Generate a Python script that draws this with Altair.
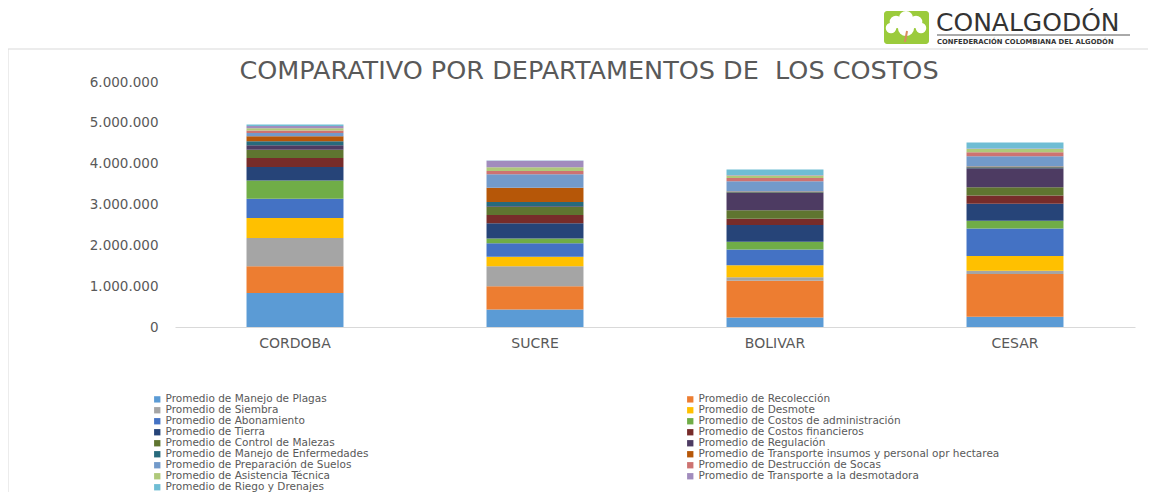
import altair as alt
import pandas as pd

departamentos = ["CORDOBA", "SUCRE", "BOLIVAR", "CESAR"]

series = [
    "Promedio de Manejo de Plagas",
    "Promedio de Recolección",
    "Promedio de Siembra",
    "Promedio de Desmote",
    "Promedio de Abonamiento",
    "Promedio de Costos de administración",
    "Promedio de Tierra",
    "Promedio de Costos financieros",
    "Promedio de Control de Malezas",
    "Promedio de Regulación",
    "Promedio de Manejo de Enfermedades",
    "Promedio de Transporte insumos y personal opr hectarea",
    "Promedio de Preparación de Suelos",
    "Promedio de Destrucción de Socas",
    "Promedio de Asistencia Técnica",
    "Promedio de Transporte a la desmotadora",
    "Promedio de Riego y Drenajes",
]

colores = [
    "#5B9BD5", "#ED7D31", "#A5A5A5", "#FFC000", "#4472C4", "#70AD47",
    "#264478", "#772C2A", "#5F7530", "#4D3B62", "#276A7C", "#B65708",
    "#729ACA", "#CD7371", "#AFC97A", "#A18CBD", "#6FBDD4",
]

cordoba = [830000, 660000, 690000, 490000, 470000, 450000, 330000, 220000, 200000,
           110000, 100000, 120000, 80000, 60000, 60000, 50000, 40000]
sucre = [430000, 570000, 490000, 230000, 330000, 120000, 370000, 200000, 200000,
         20000, 100000, 350000, 330000, 80000, 90000, 160000, 10000]
bolivar = [230000, 900000, 90000, 290000, 390000, 190000, 410000, 150000, 210000,
           420000, 20000, 20000, 250000, 80000, 60000, 10000, 140000]
cesar = [250000, 1050000, 80000, 360000, 670000, 190000, 420000, 200000, 200000,
         470000, 20000, 20000, 250000, 100000, 80000, 10000, 150000]

y_ticks = [0, 1000000, 2000000, 3000000, 4000000, 5000000, 6000000]

titulo = "COMPARATIVO POR DEPARTAMENTOS DE\u00a0 LOS COSTOS"

rows = []
for dep, vals in zip(departamentos, [cordoba, sucre, bolivar, cesar]):
    for i, (s, v) in enumerate(zip(series, vals)):
        rows.append({"dept": dep, "serie": s, "idx": i, "value": v})
df = pd.DataFrame(rows)

OX, OY = 175, 82  # plot origin on page

bars = alt.Chart(df).mark_bar().encode(
    x=alt.X("dept:N", sort=departamentos,
            scale=alt.Scale(paddingInner=0.596, paddingOuter=0.298),
            axis=alt.Axis(title=None, labelAngle=0, labelColor="#595959",
                          labelFontSize=14, labelFont="DejaVu Sans", ticks=False,
                          domainColor="#D9D9D9", labelPadding=9)),
    y=alt.Y("value:Q", stack="zero",
            scale=alt.Scale(domain=[0, 6000000], nice=False),
            axis=alt.Axis(title=None, values=y_ticks, grid=False, domain=False,
                          ticks=False, labelPadding=17, labelColor="#595959",
                          labelFontSize=13.5, labelFont="DejaVu Sans",
                          labelExpr="replace(replace(format(datum.value, ',d'), ',', '.'), ',', '.')")),
    color=alt.Color("serie:N", scale=alt.Scale(domain=series, range=colores),
                    legend=alt.Legend(title=None, orient="none", legendX=-23, legendY=312,
                                      direction="horizontal",
                                      columns=2, columnPadding=316, rowPadding=0,
                                      symbolType="square", symbolSize=40,
                                      symbolStrokeWidth=0, labelFontSize=10.5,
                                      labelFont="DejaVu Sans", labelColor="#595959",
                                      labelLimit=500, labelOffset=3)),
    order=alt.Order("idx:Q", sort="ascending"),
)

title_layer = alt.Chart(pd.DataFrame({"t": [titulo]})).mark_text(
    fontSize=25.5, font="DejaVu Sans", color="#595959", align="center", baseline="middle"
).encode(text="t:N", x=alt.value(589 - OX), y=alt.value(71 - OY))

# frame lines
frame_top = alt.Chart(pd.DataFrame({"a": [0]})).mark_rule(color="#D9D9D9", strokeWidth=1).encode(
    x=alt.value(8 - OX), x2=alt.value(1148 - OX), y=alt.value(49 - OY))
frame_left = alt.Chart(pd.DataFrame({"a": [0]})).mark_rule(color="#D9D9D9", strokeWidth=1).encode(
    x=alt.value(8 - OX), y=alt.value(49 - OY), y2=alt.value(492 - OY))

# logo
logo_box = alt.Chart(pd.DataFrame({"a": [0]})).mark_rect(color="#9BCB3C", cornerRadius=3).encode(
    x=alt.value(884 - OX), x2=alt.value(929 - OX), y=alt.value(11 - OY), y2=alt.value(44 - OY))
cloud = pd.DataFrame({
    "px": [896 - OX, 906 - OX, 916 - OX, 906 - OX, 891 - OX, 921 - OX],
    "py": [22 - OY, 18 - OY, 22 - OY, 28 - OY, 28 - OY, 28 - OY],
    "sz": [160, 200, 160, 260, 110, 110],
})
logo_cloud = alt.Chart(cloud).mark_circle(color="white", opacity=1).encode(
    x=alt.X("px:Q", scale=None), y=alt.Y("py:Q", scale=None),
    size=alt.Size("sz:Q", scale=None, legend=None))
stem = alt.Chart(pd.DataFrame({"a": [0]})).mark_rule(color="#D98B5F", strokeWidth=2).encode(
    x=alt.value(907 - OX), x2=alt.value(905 - OX), y=alt.value(31 - OY), y2=alt.value(42 - OY))
logo_text = alt.Chart(pd.DataFrame({"t": ["CONALGODÓN"]})).mark_text(
    fontSize=25, font="DejaVu Sans", color="#333333", align="left", baseline="alphabetic"
).encode(text="t:N", x=alt.value(936 - OX), y=alt.value(31 - OY))
logo_line = alt.Chart(pd.DataFrame({"a": [0]})).mark_rule(color="#555555", strokeWidth=1).encode(
    x=alt.value(937 - OX), x2=alt.value(1130 - OX), y=alt.value(35 - OY))
logo_sub = alt.Chart(pd.DataFrame({"t": ["CONFEDERACIÓN COLOMBIANA DEL ALGODÓN"]})).mark_text(
    fontSize=6.8, font="DejaVu Sans", fontWeight="bold", color="#333333", align="left", baseline="middle"
).encode(text="t:N", x=alt.value(937 - OX), y=alt.value(42 - OY))

chart = alt.layer(
    frame_top, frame_left, bars, title_layer,
    logo_box, logo_cloud, stem, logo_text, logo_line, logo_sub
).properties(
    width=960, height=245,
    autosize=alt.AutoSizeParams(type="none"),
    padding={"left": 167, "top": 74, "right": 13, "bottom": 165},
).configure_view(stroke=None)

chart.save("out.html", embed_options={"renderer": "svg", "actions": False})
